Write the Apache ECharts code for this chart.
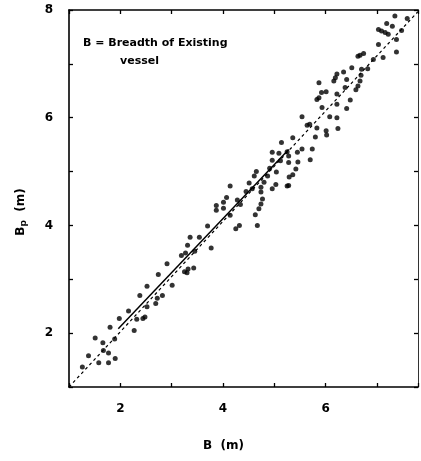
<!DOCTYPE html>
<html>
<head>
<meta charset="utf-8">
<script src="https://cdn.jsdelivr.net/npm/echarts@6/dist/echarts.min.js"></script>
<style>html,body{margin:0;padding:0;background:#fff;}#c{width:421px;height:461px;}</style>
</head>
<body>
<div id="c"></div>
<script>
// B (m) vs Bp (m)
const lowerGroup = [
  [1.26,1.37],[1.38,1.58],[1.51,1.91],[1.58,1.45],[1.66,1.82],[1.67,1.68],[1.77,1.63],[1.77,1.45],
  [1.80,2.11],[1.89,1.89],[1.90,1.53],[1.98,2.27],[2.16,2.41],[2.27,2.05],[2.32,2.26],[2.38,2.70],
  [2.44,2.27],[2.48,2.30],[2.52,2.87],[2.52,2.49],[2.69,2.55],[2.72,2.65],[2.74,3.09],[2.82,2.70],
  [2.91,3.29],[3.01,2.89],[3.19,3.44],[3.27,3.49],[3.25,3.14],[3.30,3.12],[3.32,3.19],[3.43,3.21],
  [3.45,3.52],[3.31,3.63],[3.36,3.78],[3.54,3.78]
];
const middleGroup = [
  [3.70,3.99],[3.77,3.58],[3.87,4.37],[3.87,4.28],[4.01,4.43],[4.01,4.32],[4.07,4.52],[4.14,4.73],
  [4.14,4.19],[4.28,4.47],[4.34,4.39],[4.25,3.94],[4.32,4.00],[4.45,4.63],[4.61,4.92],[4.51,4.79],
  [4.57,4.68],[4.65,5.00],[4.63,4.20],[4.67,4.00],[4.70,4.31],[4.74,4.40],[4.77,4.49],[4.74,4.62],
  [4.74,4.71],[4.80,4.80],[4.87,4.92],[4.91,5.06],[4.96,4.68],[5.03,4.76],[4.96,5.36],[4.96,5.21],
  [5.04,4.99],[5.09,5.34],[5.14,5.54],[5.12,5.20],[5.25,4.73],[5.28,4.74],[5.25,5.37],[5.28,5.29],
  [5.28,5.17],[5.29,4.90],[5.36,4.94],[5.42,5.05],[5.46,5.18],[5.36,5.63],[5.45,5.36],[5.54,5.42],
  [5.54,6.02],[5.64,5.86],[5.69,5.88],[5.70,5.22],[5.74,5.42]
];
const upperGroup = [
  [5.80,5.64],[5.83,5.81],[5.83,6.34],[5.87,6.37],[5.87,6.65],[5.92,6.47],[5.93,6.19],[6.01,6.48],
  [6.01,5.76],[6.02,5.68],[6.08,6.02],[6.16,6.68],[6.19,6.74],[6.22,6.81],[6.22,6.44],[6.22,6.25],
  [6.22,6.00],[6.24,5.80],[6.35,6.85],[6.38,6.56],[6.41,6.71],[6.41,6.17],[6.48,6.33],[6.51,6.93],
  [6.59,6.52],[6.63,6.59],[6.67,6.68],[6.69,6.79],[6.70,6.90],[6.82,6.91],[6.63,7.14],[6.67,7.16],
  [6.74,7.19],[6.93,7.08],[7.12,7.12],[7.03,7.36],[7.38,7.22],[7.38,7.45],[7.03,7.64],[7.09,7.61],
  [7.16,7.58],[7.19,7.75],[7.30,7.70],[7.22,7.55],[7.48,7.62],[7.35,7.89],[7.59,7.84]
];
const oneToOneLine = [[1.0,1.0],[7.8,7.97]];
const fitLine = [[1.96,2.08],[5.28,5.41]];
const xTickLabels = ['2','4','6'];
const yTickLabels = ['2','4','6','8'];

const font = '"DejaVu Sans", sans-serif';
const ink = '#000';
const chart = echarts.init(document.getElementById('c'), null, {renderer:'canvas'});
const axisCommon = {
  type:'value', interval:1, splitLine:{show:false},
  axisLine:{show:true, onZero:false, lineStyle:{color:ink, width:1.6}},
  axisTick:{show:true, inside:true, length:4, lineStyle:{color:ink, width:1.3}}
};
chart.setOption({
  animation:false,
  backgroundColor:'#fff',
  grid:{left:69, right:2, top:10, bottom:74, containLabel:false},
  xAxis:[
    Object.assign({}, axisCommon, {min:1, max:7.8, position:'bottom',
      axisLabel:{margin:16, color:ink, fontFamily:font, fontWeight:'bold', fontSize:12,
        formatter:v => xTickLabels.includes(String(v)) ? String(v) : ''}}),
    Object.assign({}, axisCommon, {min:1, max:7.8, position:'top', axisLabel:{show:false}})
  ],
  yAxis:[
    Object.assign({}, axisCommon, {min:1, max:8, position:'left',
      axisLabel:{margin:16, color:ink, fontFamily:font, fontWeight:'bold', fontSize:12,
        formatter:v => yTickLabels.includes(String(v)) ? String(v) : ''}}),
    Object.assign({}, axisCommon, {min:1, max:8, position:'right', axisLabel:{show:false},
      axisLine:{show:true, onZero:false, lineStyle:{color:'#333', width:1}}})
  ],
  series:[
    {type:'line', data:oneToOneLine, symbol:'none', lineStyle:{color:ink, width:1.2, type:[3,3]}, z:1},
    {type:'line', data:fitLine, symbol:'none', lineStyle:{color:ink, width:1.5}, z:2},
    {type:'scatter', data:lowerGroup.concat(middleGroup, upperGroup), symbol:'circle', symbolSize:5,
      itemStyle:{color:ink}, z:3}
  ],
  graphic:[
    {type:'text', left:83, top:38, style:{text:'B = Breadth of Existing', font:'bold 11px ' + font, fill:ink}},
    {type:'text', left:120, top:56, style:{text:'vessel', font:'bold 11px ' + font, fill:ink}},
    {type:'text', left:203, top:440, style:{text:'B  (m)', font:'bold 12px ' + font, fill:ink}},
    {type:'text', x:21, y:212, rotation:Math.PI/2,
      style:{text:'{b|B}{s|p}{b|  (m)}', align:'center', verticalAlign:'middle', fill:ink,
        rich:{b:{font:'bold 12px ' + font, fill:ink}, s:{font:'bold 9px ' + font, fill:ink, padding:[5,0,0,0]}}}}
  ]
});
</script>
</body>
</html>
